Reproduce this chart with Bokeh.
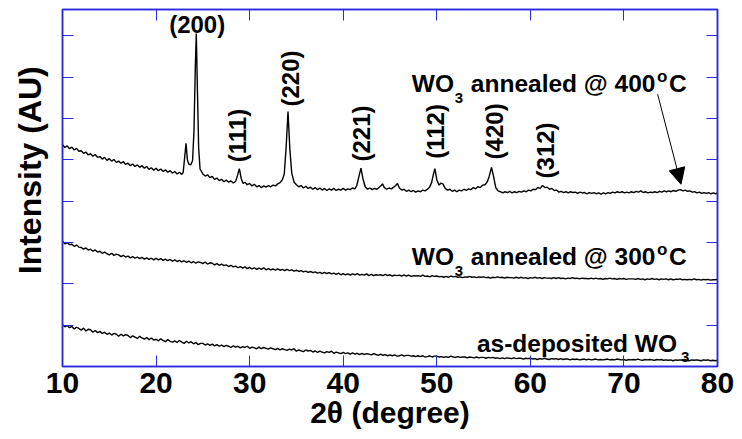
import numpy as np
from math import pi
from bokeh.plotting import figure
from bokeh.models import Range1d, LinearAxis, FixedTicker, Label, Arrow, NormalHead
from bokeh.embed import file_html
from bokeh.resources import INLINE

# ---------------- data ----------------
two_theta = np.arange(10.0, 80.001, 0.25)  # measurement grid of the two flat patterns

as_deposited = [
    1.01, 0.96, 0.99, 0.94,  0.97, 0.91, 0.95, 0.92,  0.88, 0.93, 0.86, 0.90,
    0.89, 0.83, 0.87, 0.82,  0.85, 0.80, 0.83, 0.78,  0.81, 0.76, 0.80, 0.78,
    0.73, 0.78, 0.74, 0.77,  0.75, 0.70, 0.74, 0.71,  0.68, 0.73, 0.69, 0.66,
    0.70, 0.65, 0.69, 0.64,  0.66, 0.62, 0.67, 0.63,  0.60, 0.65, 0.61, 0.59,
    0.62, 0.58, 0.63, 0.59,  0.56, 0.61, 0.57, 0.60,  0.55, 0.58, 0.53, 0.56,
    0.56, 0.52, 0.55, 0.51,  0.54, 0.50, 0.53, 0.49,  0.52, 0.48, 0.51, 0.49,
    0.46, 0.50, 0.47, 0.49,  0.45, 0.48, 0.46, 0.49,  0.44, 0.47, 0.45, 0.43,
    0.47, 0.43, 0.46, 0.44,  0.42, 0.45, 0.43, 0.41,  0.44, 0.40, 0.43, 0.41,
    0.39, 0.42, 0.40, 0.43,  0.37, 0.40, 0.38, 0.36,  0.40, 0.37, 0.39, 0.35,
    0.38, 0.34, 0.37, 0.35,  0.33, 0.36, 0.34, 0.37,  0.32, 0.35, 0.33, 0.31,
    0.34, 0.31, 0.33, 0.30,  0.33, 0.30, 0.32, 0.29,  0.32, 0.29, 0.31, 0.30,
    0.28, 0.31, 0.29, 0.27,  0.30, 0.27, 0.29, 0.26,  0.28, 0.26, 0.28, 0.25,
    0.26, 0.28, 0.25, 0.27,  0.27, 0.25, 0.26, 0.24,  0.26, 0.24, 0.26, 0.23,
    0.24, 0.26, 0.23, 0.25,  0.25, 0.23, 0.24, 0.22,  0.24, 0.22, 0.25, 0.23,
    0.22, 0.24, 0.22, 0.23,  0.23, 0.21, 0.23, 0.22,  0.21, 0.23, 0.21, 0.22,
    0.22, 0.20, 0.22, 0.21,  0.22, 0.20, 0.21, 0.19,  0.21, 0.19, 0.21, 0.20,
    0.19, 0.21, 0.19, 0.20,  0.20, 0.18, 0.20, 0.19,  0.20, 0.18, 0.19, 0.17,
    0.19, 0.18, 0.20, 0.18,  0.17, 0.19, 0.18, 0.19,  0.17, 0.19, 0.17, 0.18,
    0.18, 0.16, 0.18, 0.17,  0.18, 0.16, 0.17, 0.18,  0.16, 0.18, 0.16, 0.17,
    0.18, 0.16, 0.17, 0.16,  0.17, 0.18, 0.16, 0.17,  0.16, 0.18, 0.17, 0.16,
    0.17, 0.15, 0.17, 0.16,  0.17, 0.16, 0.18, 0.16,  0.15, 0.17, 0.16, 0.17,
    0.16, 0.15, 0.17, 0.16,  0.17, 0.15, 0.16, 0.15,  0.16, 0.14, 0.16, 0.15,
    0.16, 0.15, 0.17, 0.15,  0.14, 0.16, 0.15, 0.16,  0.15, 0.14, 0.16, 0.15,
    0.16, 0.14, 0.15, 0.14,
    0.15,
]

annealed_300 = [
    3.03, 2.97, 3.00, 2.95,  2.96, 2.91, 2.94, 2.89,  2.88, 2.84, 2.87, 2.82,
    2.84, 2.79, 2.82, 2.77,  2.79, 2.74, 2.77, 2.73,  2.70, 2.74, 2.69, 2.72,
    2.70, 2.66, 2.69, 2.65,  2.67, 2.63, 2.66, 2.62,  2.65, 2.61, 2.64, 2.60,
    2.63, 2.59, 2.62, 2.58,  2.62, 2.58, 2.61, 2.57,  2.60, 2.56, 2.59, 2.55,
    2.58, 2.54, 2.57, 2.53,  2.56, 2.52, 2.55, 2.51,  2.54, 2.50, 2.53, 2.52,
    2.49, 2.53, 2.48, 2.51,  2.50, 2.46, 2.49, 2.45,  2.48, 2.44, 2.46, 2.42,
    2.45, 2.41, 2.43, 2.39,  2.42, 2.38, 2.41, 2.37,  2.40, 2.36, 2.39, 2.35,
    2.38, 2.35, 2.39, 2.34,  2.37, 2.34, 2.36, 2.33,  2.36, 2.33, 2.35, 2.32,
    2.35, 2.32, 2.34, 2.31,  2.33, 2.30, 2.32, 2.29,  2.31, 2.28, 2.30, 2.27,
    2.29, 2.26, 2.28, 2.25,  2.28, 2.25, 2.27, 2.24,  2.26, 2.23, 2.26, 2.22,
    2.25, 2.22, 2.24, 2.21,  2.24, 2.22, 2.25, 2.21,  2.23, 2.21, 2.24, 2.20,
    2.23, 2.20, 2.22, 2.21,  2.22, 2.20, 2.23, 2.20,  2.22, 2.19, 2.21, 2.20,
    2.21, 2.19, 2.22, 2.19,  2.21, 2.18, 2.20, 2.19,  2.20, 2.18, 2.21, 2.18,
    2.19, 2.17, 2.20, 2.18,  2.19, 2.17, 2.18, 2.16,  2.18, 2.16, 2.19, 2.17,
    2.18, 2.16, 2.17, 2.15,  2.17, 2.16, 2.18, 2.16,  2.17, 2.15, 2.17, 2.16,
    2.17, 2.15, 2.16, 2.14,  2.16, 2.15, 2.17, 2.15,  2.16, 2.14, 2.16, 2.15,
    2.15, 2.14, 2.16, 2.14,  2.16, 2.14, 2.15, 2.13,  2.15, 2.14, 2.16, 2.14,
    2.15, 2.13, 2.15, 2.14,  2.14, 2.13, 2.15, 2.13,  2.15, 2.13, 2.14, 2.12,
    2.14, 2.13, 2.15, 2.13,  2.14, 2.12, 2.14, 2.13,  2.13, 2.12, 2.14, 2.12,
    2.14, 2.12, 2.13, 2.11,  2.13, 2.12, 2.14, 2.12,  2.13, 2.11, 2.13, 2.12,
    2.13, 2.11, 2.12, 2.12,  2.12, 2.11, 2.13, 2.11,  2.12, 2.10, 2.12, 2.11,
    2.13, 2.11, 2.12, 2.10,  2.12, 2.11, 2.12, 2.10,  2.12, 2.10, 2.11, 2.11,
    2.12, 2.10, 2.11, 2.10,  2.11, 2.10, 2.12, 2.10,  2.11, 2.09, 2.11, 2.10,
    2.11, 2.09, 2.10, 2.10,
    2.11,
]

# 400 C pattern: (2-theta, intensity), denser around the peaks
pattern_400 = [
    (10.00, 5.37), (10.25, 5.30), (10.50, 5.34), (10.75, 5.27),
    (11.00, 5.31), (11.25, 5.24), (11.50, 5.28), (11.75, 5.21),
    (12.00, 5.22), (12.25, 5.16), (12.50, 5.19), (12.75, 5.12),
    (13.00, 5.15), (13.25, 5.09), (13.50, 5.13), (13.75, 5.06),
    (14.00, 5.08), (14.25, 5.02), (14.50, 5.06), (14.75, 4.99),
    (15.00, 5.03), (15.25, 4.97), (15.50, 5.01), (15.75, 4.94),
    (16.00, 4.97), (16.25, 4.92), (16.50, 4.96), (16.75, 4.89),
    (17.00, 4.92), (17.25, 4.86), (17.50, 4.90), (17.75, 4.84),
    (18.00, 4.88), (18.25, 4.82), (18.50, 4.86), (18.75, 4.80),
    (19.00, 4.84), (19.25, 4.77), (19.50, 4.81), (19.75, 4.75),
    (20.00, 4.80), (20.25, 4.74), (20.50, 4.78), (20.75, 4.72),
    (21.00, 4.76), (21.25, 4.70), (21.50, 4.74), (21.75, 4.68),
    (22.00, 4.72), (22.25, 4.66), (22.50, 4.70), (22.75, 4.65),
    (22.90, 4.70), (23.05, 5.05), (23.20, 5.40), (23.35, 5.00),
    (23.50, 4.90), (23.70, 4.88), (23.90, 4.98), (24.05, 5.70),
    (24.20, 7.30), (24.30, 8.06), (24.40, 6.90), (24.55, 5.30),
    (24.70, 4.78), (25.00, 4.66), (25.25, 4.61), (25.50, 4.64),
    (25.75, 4.57), (26.00, 4.60), (26.25, 4.53), (26.50, 4.56),
    (26.75, 4.50), (27.00, 4.53), (27.25, 4.47), (27.50, 4.51),
    (27.75, 4.46), (28.00, 4.49), (28.25, 4.44), (28.50, 4.48),
    (28.70, 4.62), (28.90, 4.79), (29.10, 4.55), (29.30, 4.43),
    (29.50, 4.46), (29.75, 4.40), (30.00, 4.43), (30.25, 4.37),
    (30.50, 4.41), (30.75, 4.35), (31.00, 4.38), (31.25, 4.33),
    (31.50, 4.37), (31.75, 4.34), (32.00, 4.38), (32.25, 4.35),
    (32.50, 4.39), (32.75, 4.37), (33.00, 4.42), (33.25, 4.45),
    (33.50, 4.52), (33.70, 4.66), (33.90, 5.30), (34.10, 6.17),
    (34.30, 5.25), (34.50, 4.68), (34.75, 4.46), (35.00, 4.40),
    (35.25, 4.35), (35.50, 4.38), (35.75, 4.32), (36.00, 4.36),
    (36.25, 4.31), (36.50, 4.34), (36.75, 4.29), (37.00, 4.33),
    (37.25, 4.28), (37.50, 4.32), (37.75, 4.27), (38.00, 4.31),
    (38.25, 4.26), (38.50, 4.30), (38.75, 4.27), (39.00, 4.31),
    (39.25, 4.26), (39.50, 4.29), (39.75, 4.27), (40.00, 4.31),
    (40.25, 4.27), (40.50, 4.30), (40.75, 4.28), (41.00, 4.32),
    (41.25, 4.30), (41.45, 4.38), (41.70, 4.62), (41.90, 4.80),
    (42.10, 4.55), (42.35, 4.35), (42.60, 4.29), (42.85, 4.32),
    (43.10, 4.28), (43.35, 4.31), (43.60, 4.29), (43.85, 4.34),
    (44.05, 4.38), (44.20, 4.42), (44.40, 4.33), (44.65, 4.29),
    (44.90, 4.32), (45.15, 4.30), (45.40, 4.34), (45.60, 4.38),
    (45.80, 4.43), (46.00, 4.32), (46.25, 4.27), (46.50, 4.29),
    (46.75, 4.24), (47.00, 4.27), (47.25, 4.23), (47.50, 4.26),
    (47.75, 4.22), (48.00, 4.25), (48.25, 4.23), (48.50, 4.27),
    (48.75, 4.25), (49.00, 4.29), (49.20, 4.33), (49.45, 4.45),
    (49.65, 4.66), (49.80, 4.79), (50.00, 4.52), (50.25, 4.39),
    (50.45, 4.44), (50.65, 4.42), (50.90, 4.31), (51.15, 4.27),
    (51.40, 4.29), (51.65, 4.24), (51.90, 4.27), (52.15, 4.23),
    (52.40, 4.27), (52.65, 4.25), (52.90, 4.29), (53.15, 4.26),
    (53.40, 4.30), (53.65, 4.28), (53.90, 4.33), (54.15, 4.30),
    (54.40, 4.35), (54.65, 4.33), (54.90, 4.39), (55.15, 4.40),
    (55.40, 4.47), (55.60, 4.60), (55.85, 4.82), (56.05, 4.62),
    (56.30, 4.33), (56.55, 4.25), (56.80, 4.23), (57.05, 4.20),
    (57.30, 4.23), (57.55, 4.21), (57.80, 4.24), (58.05, 4.20),
    (58.30, 4.23), (58.55, 4.21), (58.80, 4.24), (59.05, 4.22),
    (59.30, 4.25), (59.55, 4.23), (59.80, 4.27), (60.05, 4.25),
    (60.30, 4.29), (60.55, 4.28), (60.80, 4.33), (61.05, 4.31),
    (61.30, 4.38), (61.55, 4.33), (61.80, 4.34), (62.05, 4.29),
    (62.30, 4.31), (62.55, 4.26), (62.80, 4.27), (63.05, 4.22),
    (63.30, 4.24), (63.55, 4.21), (63.80, 4.23), (64.05, 4.20),
    (64.30, 4.23), (64.55, 4.21), (64.80, 4.22), (65.05, 4.19),
    (65.30, 4.22), (65.55, 4.20), (65.80, 4.21), (66.05, 4.18),
    (66.30, 4.21), (66.55, 4.19), (66.80, 4.21), (67.05, 4.18),
    (67.30, 4.20), (67.55, 4.17), (67.80, 4.20), (68.05, 4.18),
    (68.30, 4.21), (68.55, 4.19), (68.80, 4.22), (69.05, 4.20),
    (69.30, 4.23), (69.55, 4.21), (69.80, 4.23), (70.05, 4.20),
    (70.30, 4.22), (70.55, 4.20), (70.80, 4.23), (71.05, 4.21),
    (71.30, 4.24), (71.55, 4.22), (71.80, 4.25), (72.05, 4.21),
    (72.30, 4.23), (72.55, 4.20), (72.80, 4.22), (73.05, 4.21),
    (73.30, 4.23), (73.55, 4.21), (73.80, 4.24), (74.05, 4.22),
    (74.30, 4.25), (74.55, 4.23), (74.80, 4.25), (75.05, 4.23),
    (75.30, 4.26), (75.55, 4.24), (75.80, 4.27), (76.05, 4.28),
    (76.30, 4.25), (76.55, 4.27), (76.80, 4.24), (77.05, 4.25),
    (77.30, 4.22), (77.55, 4.23), (77.80, 4.20), (78.05, 4.22),
    (78.30, 4.19), (78.55, 4.21), (78.80, 4.19), (79.05, 4.21),
    (79.30, 4.18), (79.55, 4.20), (79.80, 4.18), (80.00, 4.20),
]
theta_400 = [pt[0] for pt in pattern_400]
annealed_400 = [pt[1] for pt in pattern_400]

x_ticks = [10, 20, 30, 40, 50, 60, 70, 80]
y_ticks = [1, 2, 3, 4, 5, 6, 7, 8]

peak_labels = ["(111)", "(220)", "(221)", "(112)", "(420)", "(312)"]
peak_label_x = [28.66, 34.39, 41.93, 49.89, 56.15, 61.66]
peak_label_y = [5.59, 6.97, 5.64, 5.69, 5.69, 5.23]

# ---------------- figure ----------------
FONT = "Liberation Sans"
FRAME = "#2b2bdc"

p = figure(width=742, height=439, output_backend="svg", toolbar_location=None,
           x_range=Range1d(10, 80), y_range=Range1d(0, 8.64),
           min_border_left=62, min_border_right=25, min_border_top=9, min_border_bottom=73,
           background_fill_color="white", border_fill_color="white")
p.grid.visible = False
p.outline_line_color = FRAME
p.outline_line_width = 1.5

def style_axis(ax, ticks, labels=True):
    ax.ticker = FixedTicker(ticks=ticks)
    ax.axis_line_color = FRAME
    ax.axis_line_width = 1.5
    ax.major_tick_line_color = FRAME
    ax.major_tick_line_width = 1
    ax.major_tick_in = 11
    ax.major_tick_out = 0
    ax.minor_tick_line_color = None
    if not labels:
        ax.major_label_overrides = {t: "" for t in ticks}
        ax.major_label_standoff = 0

xb = p.xaxis[0]
style_axis(xb, x_ticks)
xb.major_label_text_font = FONT
xb.major_label_text_font_style = "bold"
xb.major_label_text_font_size = "30px"
xb.major_label_text_color = "black"
xb.major_label_standoff = 6
xb.axis_label = "2θ (degree)"
xb.axis_label_text_font = FONT
xb.axis_label_text_font_style = "bold"
xb.axis_label_text_font_size = "30px"
xb.axis_label_text_color = "black"
xb.axis_label_standoff = 0

yl = p.yaxis[0]
style_axis(yl, y_ticks, labels=False)
# leading no-break spaces lift the centred title a little, as in the original
yl.axis_label = "\u00a0\u00a0\u00a0\u00a0Intensity (AU)"
yl.axis_label_text_font = FONT
yl.axis_label_text_font_style = "bold"
yl.axis_label_text_font_size = "32px"
yl.axis_label_text_color = "black"
yl.axis_label_standoff = 15

xt = LinearAxis()
style_axis(xt, x_ticks, labels=False)
p.add_layout(xt, "above")
yr = LinearAxis()
style_axis(yr, y_ticks, labels=False)
p.add_layout(yr, "right")

# ---------------- curves ----------------
p.line(two_theta, as_deposited, line_color="black", line_width=1.4)
p.line(two_theta, annealed_300, line_color="black", line_width=1.4)
p.line(theta_400, annealed_400, line_color="black", line_width=1.4)

# ---------------- annotations ----------------
def lab(x, y, text, size="24.5px", align="left", baseline="alphabetic", angle=0):
    p.add_layout(Label(x=x, y=y, text=text, text_font=FONT, text_font_style="bold",
                       text_font_size=size, text_color="black", text_align=align,
                       text_baseline=baseline, angle=angle))

lab(24.39, 8.28, "(200)", size="24px", align="center", baseline="middle")
for t, x, y in zip(peak_labels, peak_label_x, peak_label_y):
    lab(x, y, t, size="24px", align="center", baseline="middle", angle=pi / 2)

# WO3 annealed @ 400 oC
lab(47.33, 6.85, "WO")
lab(51.93, 6.51, "3", size="15px")
lab(53.64, 6.85, "annealed @ 400")
lab(73.53, 7.02, "o", size="17px")
lab(74.81, 6.85, "C")

# WO3 annealed @ 300 oC
lab(47.33, 2.66, "WO")
lab(51.93, 2.32, "3", size="15px")
lab(53.64, 2.66, "annealed @ 300")
lab(73.53, 2.83, "o", size="17px")
lab(74.81, 2.66, "C")

# as-deposited WO3
lab(75.67, 0.557, "as-deposited WO", align="right")
lab(76.10, 0.218, "3", size="15px")

p.add_layout(Arrow(end=NormalHead(size=16, fill_color="black", line_color="black"),
                   x_start=73.6, y_start=6.59, x_end=76.1, y_end=4.41,
                   line_color="black", line_width=1))

open("out.html", "w").write(file_html(p, INLINE))
